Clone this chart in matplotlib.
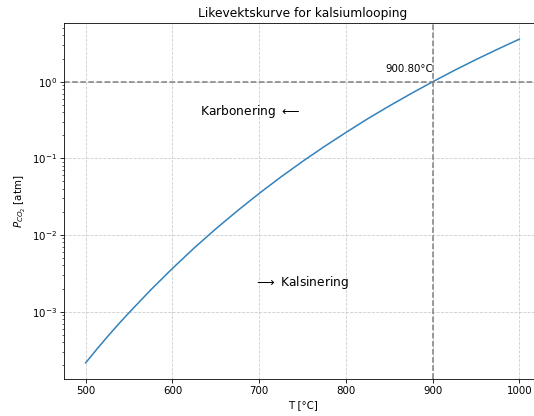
import matplotlib.pyplot as plt
import numpy as np

# likevektstrykk for CaCO3 <-> CaO + CO2, avlest langs kurven
T_C = [500, 512.5, 525, 537.5, 550, 575, 600, 625, 650, 675, 700, 725, 750,
       775, 800, 825, 850, 875, 900, 925, 950, 975, 1000]
P_CO2 = [2.15e-4, 3.20e-4, 4.70e-4, 6.80e-4, 9.7e-4, 1.92e-3, 3.66e-3,
         6.75e-3, 1.20e-2, 2.07e-2, 3.48e-2, 5.70e-2, 9.10e-2, 0.142,
         0.217, 0.327, 0.481, 0.697, 0.994, 1.40, 1.94, 2.65, 3.58]

T_eq = 900.80
P_ref = 1.0

fig = plt.figure(figsize=(534/73.5, 416/73.5), dpi=73.5)
ax = fig.add_axes([64/534, 37/416, 477/534, 356/416])

ax.plot(T_C, P_CO2, color='#3182bd', lw=1.5)
ax.set_yscale('log')

ax.axhline(P_ref, color='gray', ls='--', lw=1.5)
ax.axvline(T_eq, color='gray', ls='--', lw=1.5)
ax.text(T_eq, 1.35, f'{T_eq:.2f}°C', ha='right', va='baseline', fontsize=10)

ax.text(632, 0.41, r'Karbonering $\longleftarrow$', fontsize=12, va='center')
ax.text(694, 2.4e-3, r'$\longrightarrow$ Kalsinering', fontsize=12, va='center')

ax.grid(True, which='major', ls='--', color='#c0c0c0', lw=0.8, alpha=0.8)
ax.set_xlabel('T [°C]')
ax.set_ylabel(r'$P_{CO_2}$ [atm]')
ax.set_title('Likevektskurve for kalsiumlooping')

fig.savefig('out.png', dpi=73.5)
